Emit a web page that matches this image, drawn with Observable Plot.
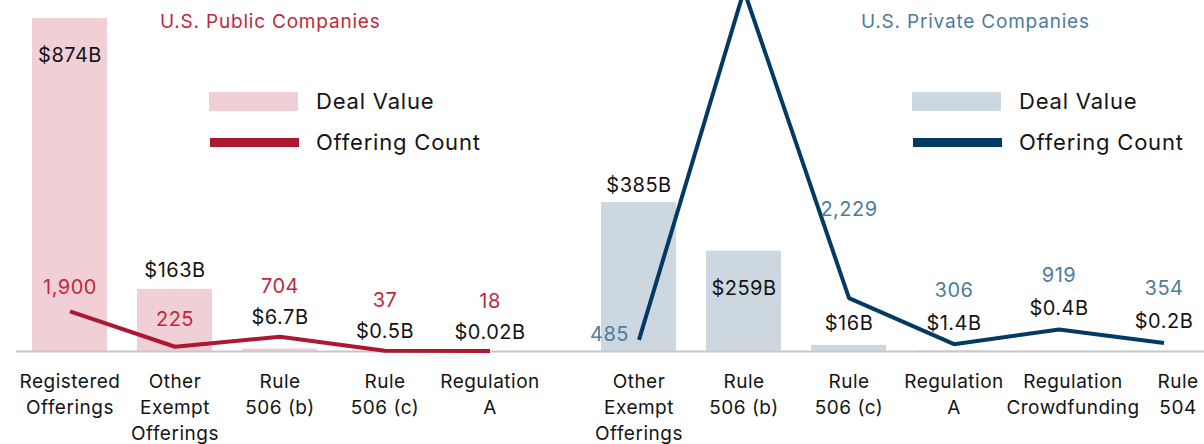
<!DOCTYPE html>
<html><head><meta charset="utf-8">
<script src="https://cdn.jsdelivr.net/npm/d3@7"></script>
<script src="https://cdn.jsdelivr.net/npm/@observablehq/plot@0.6"></script>
<style>
html,body{margin:0;padding:0;background:#fff;overflow:hidden;}
#wrap{position:relative;width:1204px;height:444px;overflow:hidden;font-family:Inter,sans-serif;letter-spacing:0.05em;}
.panel{position:absolute;top:0;}
.title{position:absolute;font-size:19px;line-height:19px;white-space:nowrap;}
.sw{position:absolute;}
.lg{position:absolute;font-size:22px;line-height:22px;color:#141414;white-space:nowrap;}
</style></head><body>
<div id="wrap">
  <div id="left" class="panel" style="left:0px;width:558px;"></div>
  <div id="right" class="panel" style="left:558px;width:687px;"></div>
  <div class="title" style="left:160px;top:11.5px;color:#C0283E;">U.S. Public Companies</div>
  <div class="sw" style="left:209px;top:92px;width:89px;height:19px;background:#F0D0D6;"></div>
  <div class="lg" style="left:316px;top:90px;">Deal Value</div>
  <div class="sw" style="left:210px;top:138px;width:89px;height:9px;background:#AD172F;"></div>
  <div class="lg" style="left:316px;top:131px;">Offering Count</div>
  <div class="title" style="left:861px;top:11.5px;color:#4E7B9E;">U.S. Private Companies</div>
  <div class="sw" style="left:912px;top:92px;width:89px;height:19px;background:#CCD7E0;"></div>
  <div class="lg" style="left:1019px;top:90px;">Deal Value</div>
  <div class="sw" style="left:913px;top:138px;width:89px;height:9px;background:#033A64;"></div>
  <div class="lg" style="left:1019px;top:131px;">Offering Count</div>
</div>
<script>
// ---- data ----
const publicCategories = ["Registered\nOfferings", "Other\nExempt\nOfferings", "Rule\n506 (b)", "Rule\n506 (c)", "Regulation\nA"];
const publicDealValue = [874, 163, 6.7, 0.5, 0.02];          // $B
const publicOfferingCount = [1900, 225, 704, 37, 18];

const privateCategories = ["Other\nExempt\nOfferings", "Rule\n506 (b)", "Rule\n506 (c)", "Regulation\nA", "Regulation\nCrowdfunding", "Rule\n504"];
const privateDealValue = [385, 259, 16, 1.4, 0.4, 0.2];       // $B
const privateOfferingCount = [485, 15100, 2229, 306, 919, 354];

// ---- helpers ----
const fmtValue = v => `$${v}B`;
const fmtCount = d3.format(",");
const FONT = "Inter, sans-serif";

function rows(cats, vals, counts) {
  return cats.map((c, i) => ({cat: c, value: vals[i], count: counts[i], i}));
}

function panel({cats, data, yMax, lineRatio, barFill, lineStroke, countFill, width, padOuter, ruleInset,
                valueLabels, countLabels, catShift}) {
  const lineY = d => d.count * lineRatio;
  const marks = [
    Plot.barY(data, {x: "cat", y: "value", fill: barFill}),
    Plot.ruleY([0], {stroke: "#C8C8C8", strokeWidth: 2, insetLeft: ruleInset}),
    Plot.line(data, {x: "cat", y: lineY, stroke: lineStroke, strokeWidth: 4,
                     strokeLinejoin: "miter", strokeLinecap: "butt"}),
    // category labels
    Plot.text(data, {x: "cat", text: "cat", frameAnchor: "bottom", lineAnchor: "top", dy: 18,
                     fontSize: 19, lineHeight: 1.37, fill: "#141414",
                     filter: d => !(catShift && catShift.set.includes(d.i))}),
  ];
  if (catShift) {
    marks.push(Plot.text(data, {x: "cat", text: "cat", frameAnchor: "bottom", lineAnchor: "top", dy: 18,
                     dx: catShift.dx, fontSize: 19, lineHeight: 1.37, fill: "#141414",
                     filter: d => catShift.set.includes(d.i)}));
  }
  for (const L of valueLabels) {
    marks.push(Plot.text(data, {x: "cat",
      y: L.on === "max" ? d => Math.max(d.value, lineY(d)) : "value",
      text: d => fmtValue(d.value), dy: L.dy, fontSize: 20, fill: "#141414",
      filter: d => L.idx.includes(d.i)}));
  }
  for (const L of countLabels) {
    marks.push(Plot.text(data, {x: "cat",
      y: L.on === "value" ? "value" : lineY,
      text: d => fmtCount(d.count), dy: L.dy, dx: L.dx || 0, textAnchor: L.anchor || "middle",
      fontSize: 20, fill: countFill,
      filter: d => L.idx.includes(d.i)}));
  }
  return Plot.plot({
    width, height: 444,
    marginTop: 18, marginBottom: 93, marginLeft: 0, marginRight: 0,
    style: {fontFamily: FONT, maxWidth: "none", overflow: "visible", background: "transparent", letterSpacing: "0.05em"},
    x: {type: "band", domain: cats, paddingInner: 0.289, paddingOuter: padOuter, axis: null},
    y: {domain: [0, yMax], axis: null},
    marks
  });
}

const pub = rows(publicCategories, publicDealValue, publicOfferingCount);
const priv = rows(privateCategories, privateDealValue, privateOfferingCount);

document.getElementById("left").append(panel({
  cats: publicCategories, data: pub, yMax: d3.max(publicDealValue), lineRatio: 0.0553,
  barFill: "#F0D0D6", lineStroke: "#AD172F", countFill: "#C0283E",
  width: 558, padOuter: 0.289, ruleInset: 16,
  valueLabels: [
    {idx: [0], on: "value", dy: 37},
    {idx: [1, 2, 3, 4], on: "max", dy: -19}
  ],
  countLabels: [
    {idx: [0], on: "line", dy: -24},
    {idx: [1], on: "value", dy: 30},
    {idx: [2, 3, 4], on: "line", dy: -50}
  ]
}));

// the Rule 506 (b) count peaks above the visible area, so its label is not shown (as in the original)
document.getElementById("right").append(panel({
  cats: privateCategories, data: priv, yMax: 860.5, lineRatio: 0.0618,
  barFill: "#CCD7E0", lineStroke: "#033A64", countFill: "#4E7B9E",
  width: 686.5, padOuter: 0.398, ruleInset: 0,
  valueLabels: [
    {idx: [0], on: "value", dy: -17},
    {idx: [1], on: "value", dy: 37},
    {idx: [2], on: "value", dy: -22},
    {idx: [3, 4, 5], on: "max", dy: -21}
  ],
  countLabels: [
    {idx: [0], on: "line", dy: -5, dx: -10, anchor: "end"},
    {idx: [2], on: "line", dy: -89},
    {idx: [3, 4, 5], on: "line", dy: -54}
  ],
  catShift: {set: [4, 5], dx: 14}
}));
</script>
</body></html>
